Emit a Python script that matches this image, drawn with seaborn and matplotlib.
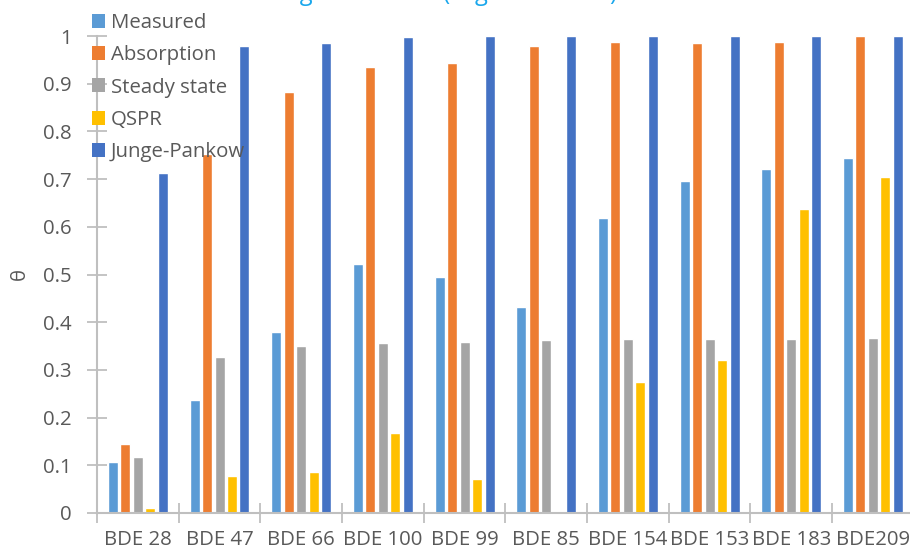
import numpy as np
import pandas as pd
import matplotlib
matplotlib.use("Agg")
import matplotlib.pyplot as plt
import seaborn as sns
from matplotlib.patches import Patch
from matplotlib.ticker import FixedLocator

congeners = ["BDE 28", "BDE 47", "BDE 66", "BDE 100", "BDE 99",
             "BDE 85", "BDE 154", "BDE 153", "BDE 183", "BDE209"]
series = ["Measured", "Absorption", "Steady state", "QSPR", "Junge-Pankow"]

measured = [0.107, 0.237, 0.379, 0.523, 0.495, 0.431, 0.618, 0.695, 0.721, 0.744]
absorption = [0.145, 0.753, 0.883, 0.936, 0.943, 0.980, 0.987, 0.985, 0.987, 1.000]
steady_state = [0.117, 0.328, 0.350, 0.357, 0.358, 0.363, 0.364, 0.364, 0.364, 0.367]
qspr = [0.010, 0.078, 0.087, 0.168, 0.071, np.nan, 0.275, 0.321, 0.637, 0.705]
junge_pankow = [0.713, 0.978, 0.986, 0.997, 1.000, 1.000, 1.000, 1.000, 1.000, 1.000]

colors = ["#5B9BD5", "#ED7D31", "#A5A5A5", "#FFC000", "#4472C4"]
text_color = "#595959"
axis_color = "#BFBFBF"
fs = 14.7

df = pd.DataFrame({
    "congener": np.repeat(congeners, len(series)),
    "model": series * len(congeners),
    "theta": np.column_stack([measured, absorption, steady_state,
                              qspr, junge_pankow]).ravel(),
})

sns.set_theme(style="white")
plt.rcParams["font.family"] = ["Open Sans", "DejaVu Sans"]

fig = plt.figure(figsize=(9.10, 5.54), dpi=100)
ax = fig.add_axes([97 / 910, 41 / 554, (913.7 - 97) / 910, (513 - 36) / 554])

sns.barplot(data=df, x="congener", y="theta", hue="model",
            order=congeners, hue_order=series, palette=colors,
            width=0.765, gap=0.2, saturation=1, legend=False, ax=ax,
            errorbar=None)

ax.set_xlim(-0.5, len(congeners) - 0.5)
ax.set_ylim(0, 1)
yt = np.round(np.arange(0, 1.01, 0.1), 1)
ax.set_yticks(yt)
ax.set_yticklabels(["0" if v == 0 else ("1" if v == 1 else f"{v:.1f}") for v in yt])

ax.xaxis.set_minor_locator(FixedLocator(np.arange(-0.5, len(congeners), 1.0)))
ax.tick_params(axis="x", which="major", length=0, pad=12,
               labelsize=fs, labelcolor=text_color)
ax.tick_params(axis="x", which="minor", direction="inout", length=14,
               width=1.3, color=axis_color, bottom=True)
ax.tick_params(axis="y", which="major", direction="inout", length=14,
               width=1.3, color=axis_color, left=True, pad=11,
               labelsize=fs, labelcolor=text_color)

for side in ("top", "right"):
    ax.spines[side].set_visible(False)
for side in ("left", "bottom"):
    ax.spines[side].set_color(axis_color)
    ax.spines[side].set_linewidth(1.5)
ax.grid(False)

ax.set_xlabel("")
ax.set_ylabel("θ", fontsize=fs, color=text_color, labelpad=10)

handles = [Patch(facecolor=c, edgecolor="none") for c in colors]
fig.legend(handles, series, loc="upper left",
           bbox_to_anchor=(92 / 910, 1 - 13 / 554), frameon=False,
           fontsize=fs, labelcolor=text_color, handlelength=0.62,
           handleheight=0.68, handletextpad=0.3, labelspacing=0.6,
           borderaxespad=0, borderpad=0)

fig.text(401 / 910, 1 + 0.5 / 554, "Partitioning of θ values (avg. of all sites)",
         ha="center", va="baseline", fontsize=17, color="#1AA7EC")

fig.savefig("out.png", dpi=100)
